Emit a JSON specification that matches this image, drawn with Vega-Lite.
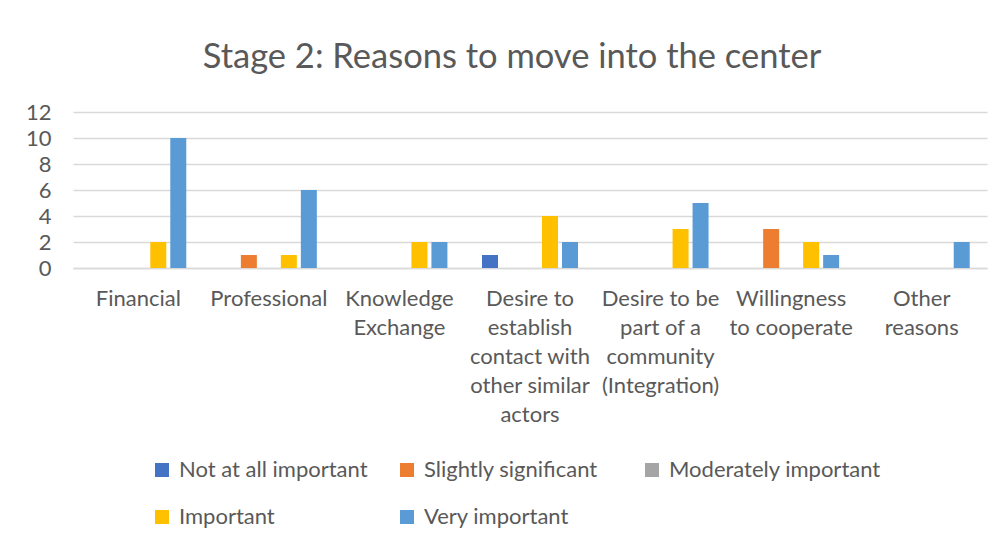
{
  "$schema": "https://vega.github.io/schema/vega-lite/v6.json",
  "width": 914,
  "height": 156,
  "autosize": {"type": "none"},
  "padding": {"left": 73, "top": 112, "right": 17, "bottom": 275},
  "background": "white",
  "title": {
    "text": "Stage 2: Reasons to move into the center",
    "font": "Lato",
    "fontSize": 34.5,
    "fontWeight": "normal",
    "color": "#595959",
    "anchor": "middle",
    "dx": -18,
    "offset": 26
  },
  "data": {
    "values": [
      {"reason": "Financial", "level": "Not at all important", "count": 0},
      {"reason": "Financial", "level": "Slightly significant", "count": 0},
      {"reason": "Financial", "level": "Moderately important", "count": 0},
      {"reason": "Financial", "level": "Important", "count": 2},
      {"reason": "Financial", "level": "Very important", "count": 10},
      {"reason": "Professional", "level": "Not at all important", "count": 0},
      {"reason": "Professional", "level": "Slightly significant", "count": 1},
      {"reason": "Professional", "level": "Moderately important", "count": 0},
      {"reason": "Professional", "level": "Important", "count": 1},
      {"reason": "Professional", "level": "Very important", "count": 6},
      {"reason": "Knowledge Exchange", "level": "Not at all important", "count": 0},
      {"reason": "Knowledge Exchange", "level": "Slightly significant", "count": 0},
      {"reason": "Knowledge Exchange", "level": "Moderately important", "count": 0},
      {"reason": "Knowledge Exchange", "level": "Important", "count": 2},
      {"reason": "Knowledge Exchange", "level": "Very important", "count": 2},
      {"reason": "Desire to establish contact with other similar actors", "level": "Not at all important", "count": 1},
      {"reason": "Desire to establish contact with other similar actors", "level": "Slightly significant", "count": 0},
      {"reason": "Desire to establish contact with other similar actors", "level": "Moderately important", "count": 0},
      {"reason": "Desire to establish contact with other similar actors", "level": "Important", "count": 4},
      {"reason": "Desire to establish contact with other similar actors", "level": "Very important", "count": 2},
      {"reason": "Desire to be part of a community (Integration)", "level": "Not at all important", "count": 0},
      {"reason": "Desire to be part of a community (Integration)", "level": "Slightly significant", "count": 0},
      {"reason": "Desire to be part of a community (Integration)", "level": "Moderately important", "count": 0},
      {"reason": "Desire to be part of a community (Integration)", "level": "Important", "count": 3},
      {"reason": "Desire to be part of a community (Integration)", "level": "Very important", "count": 5},
      {"reason": "Willingness to cooperate", "level": "Not at all important", "count": 0},
      {"reason": "Willingness to cooperate", "level": "Slightly significant", "count": 3},
      {"reason": "Willingness to cooperate", "level": "Moderately important", "count": 0},
      {"reason": "Willingness to cooperate", "level": "Important", "count": 2},
      {"reason": "Willingness to cooperate", "level": "Very important", "count": 1},
      {"reason": "Other reasons", "level": "Not at all important", "count": 0},
      {"reason": "Other reasons", "level": "Slightly significant", "count": 0},
      {"reason": "Other reasons", "level": "Moderately important", "count": 0},
      {"reason": "Other reasons", "level": "Important", "count": 0},
      {"reason": "Other reasons", "level": "Very important", "count": 2}
    ]
  },
  "mark": {"type": "bar"},
  "encoding": {
    "x": {
      "field": "reason",
      "type": "nominal",
      "sort": null,
      "scale": {"paddingInner": 0, "paddingOuter": 0},
      "axis": {
        "title": null,
        "labelAngle": 0,
        "labelFont": "Lato",
        "labelFontSize": 22,
        "labelColor": "#595959",
        "labelLineHeight": 29,
        "labelPadding": 20,
        "labelLimit": 200,
        "ticks": false,
        "domain": true,
        "domainColor": "#d9d9d9",
        "domainWidth": 1.5,
        "labelExpr": "datum.label == 'Knowledge Exchange' ? ['Knowledge', 'Exchange'] : datum.label == 'Desire to establish contact with other similar actors' ? ['Desire to', 'establish', 'contact with', 'other similar', 'actors'] : datum.label == 'Desire to be part of a community (Integration)' ? ['Desire to be', 'part of a', 'community', '(Integration)'] : datum.label == 'Willingness to cooperate' ? ['Willingness', 'to cooperate'] : datum.label == 'Other reasons' ? ['Other', 'reasons'] : datum.label"
      }
    },
    "xOffset": {
      "field": "level",
      "type": "nominal",
      "sort": ["Not at all important", "Slightly significant", "Moderately important", "Important", "Very important"],
      "scale": {"paddingInner": 0.2, "paddingOuter": 0.865}
    },
    "y": {
      "field": "count",
      "type": "quantitative",
      "scale": {"domain": [0, 12]},
      "axis": {
        "title": null,
        "values": [0, 2, 4, 6, 8, 10, 12],
        "labelFont": "Lato",
        "labelFontSize": 22,
        "labelColor": "#595959",
        "labelPadding": 22,
        "ticks": false,
        "domain": false,
        "grid": true,
        "gridColor": "#d9d9d9",
        "gridWidth": 1.5
      }
    },
    "color": {
      "field": "level",
      "type": "nominal",
      "scale": {
        "domain": ["Not at all important", "Slightly significant", "Moderately important", "Important", "Very important"],
        "range": ["#4472C4", "#ED7D31", "#A5A5A5", "#FFC000", "#5B9BD5"]
      },
      "legend": {
        "title": null,
        "orient": "none",
        "legendX": 78,
        "legendY": 347,
        "columns": 3,
        "direction": "horizontal",
        "gridAlign": "all",
        "symbolType": "square",
        "symbolSize": 196,
        "symbolStrokeWidth": 0,
        "labelFont": "Lato",
        "labelFontSize": 22,
        "labelColor": "#595959",
        "labelOffset": 6,
        "labelLimit": 300,
        "columnPadding": 5,
        "rowPadding": 25
      }
    }
  },
  "config": {"view": {"stroke": null}}
}
